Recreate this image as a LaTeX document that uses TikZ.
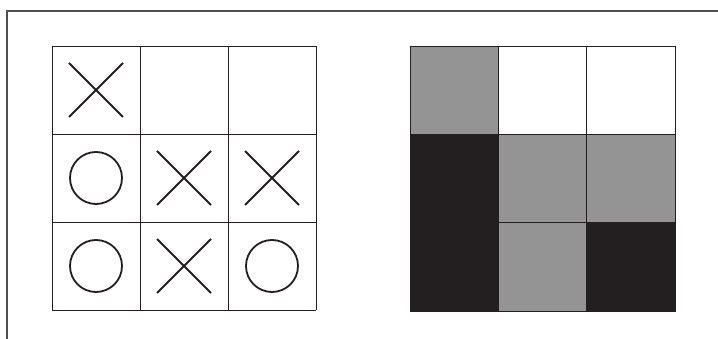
\documentclass[tikz,border=0pt]{standalone}
\definecolor{ink}{HTML}{231F20}
\definecolor{midgray}{HTML}{949494}
\definecolor{framec}{HTML}{505050}
\begin{document}
\begin{tikzpicture}[x=1pt,y=-1pt,
  gridline/.style={draw=ink,line width=0.9pt},
  markx/.style={draw=ink,line width=1.9pt},
  marko/.style={draw=ink,line width=1.8pt},
  framel/.style={draw=framec,line width=1.2pt},
  graycell/.style={fill=midgray,draw=ink,line width=0.9pt},
  blackcell/.style={fill=ink,draw=ink,line width=0.9pt},
  whitecell/.style={fill=white,draw=ink,line width=0.9pt}]
\useasboundingbox (0,0) rectangle (718,339);
% frame
\draw[framel] (718,11) -- (7,11) -- (7,339);
% left board
\foreach \i in {0,1,2,3}{
  \draw[gridline] (52+88*\i,46) -- (52+88*\i,310);
  \draw[gridline] (52,46+88*\i) -- (316,46+88*\i);
}
% X marks
\foreach \cx/\cy in {96/90, 184/178, 272/178, 184/266}{
  \draw[markx] (\cx-27,\cy-27) -- (\cx+27,\cy+27);
  \draw[markx] (\cx-27,\cy+27) -- (\cx+27,\cy-27);
}
% O marks
\foreach \cx/\cy in {96/178, 96/266, 272/266}{
  \draw[marko] (\cx,\cy) circle (26);
}
% right board
\draw[graycell] (410,46) rectangle (498,134);
\draw[whitecell] (498,46) rectangle (586,134);
\draw[whitecell] (586,46) rectangle (675,134);
\draw[blackcell] (410,134) rectangle (498,311);
\draw[graycell] (498,134) rectangle (586,222);
\draw[graycell] (586,134) rectangle (675,222);
\draw[graycell] (498,222) rectangle (586,311);
\draw[blackcell] (586,222) rectangle (675,311);
\end{tikzpicture}
\end{document}
